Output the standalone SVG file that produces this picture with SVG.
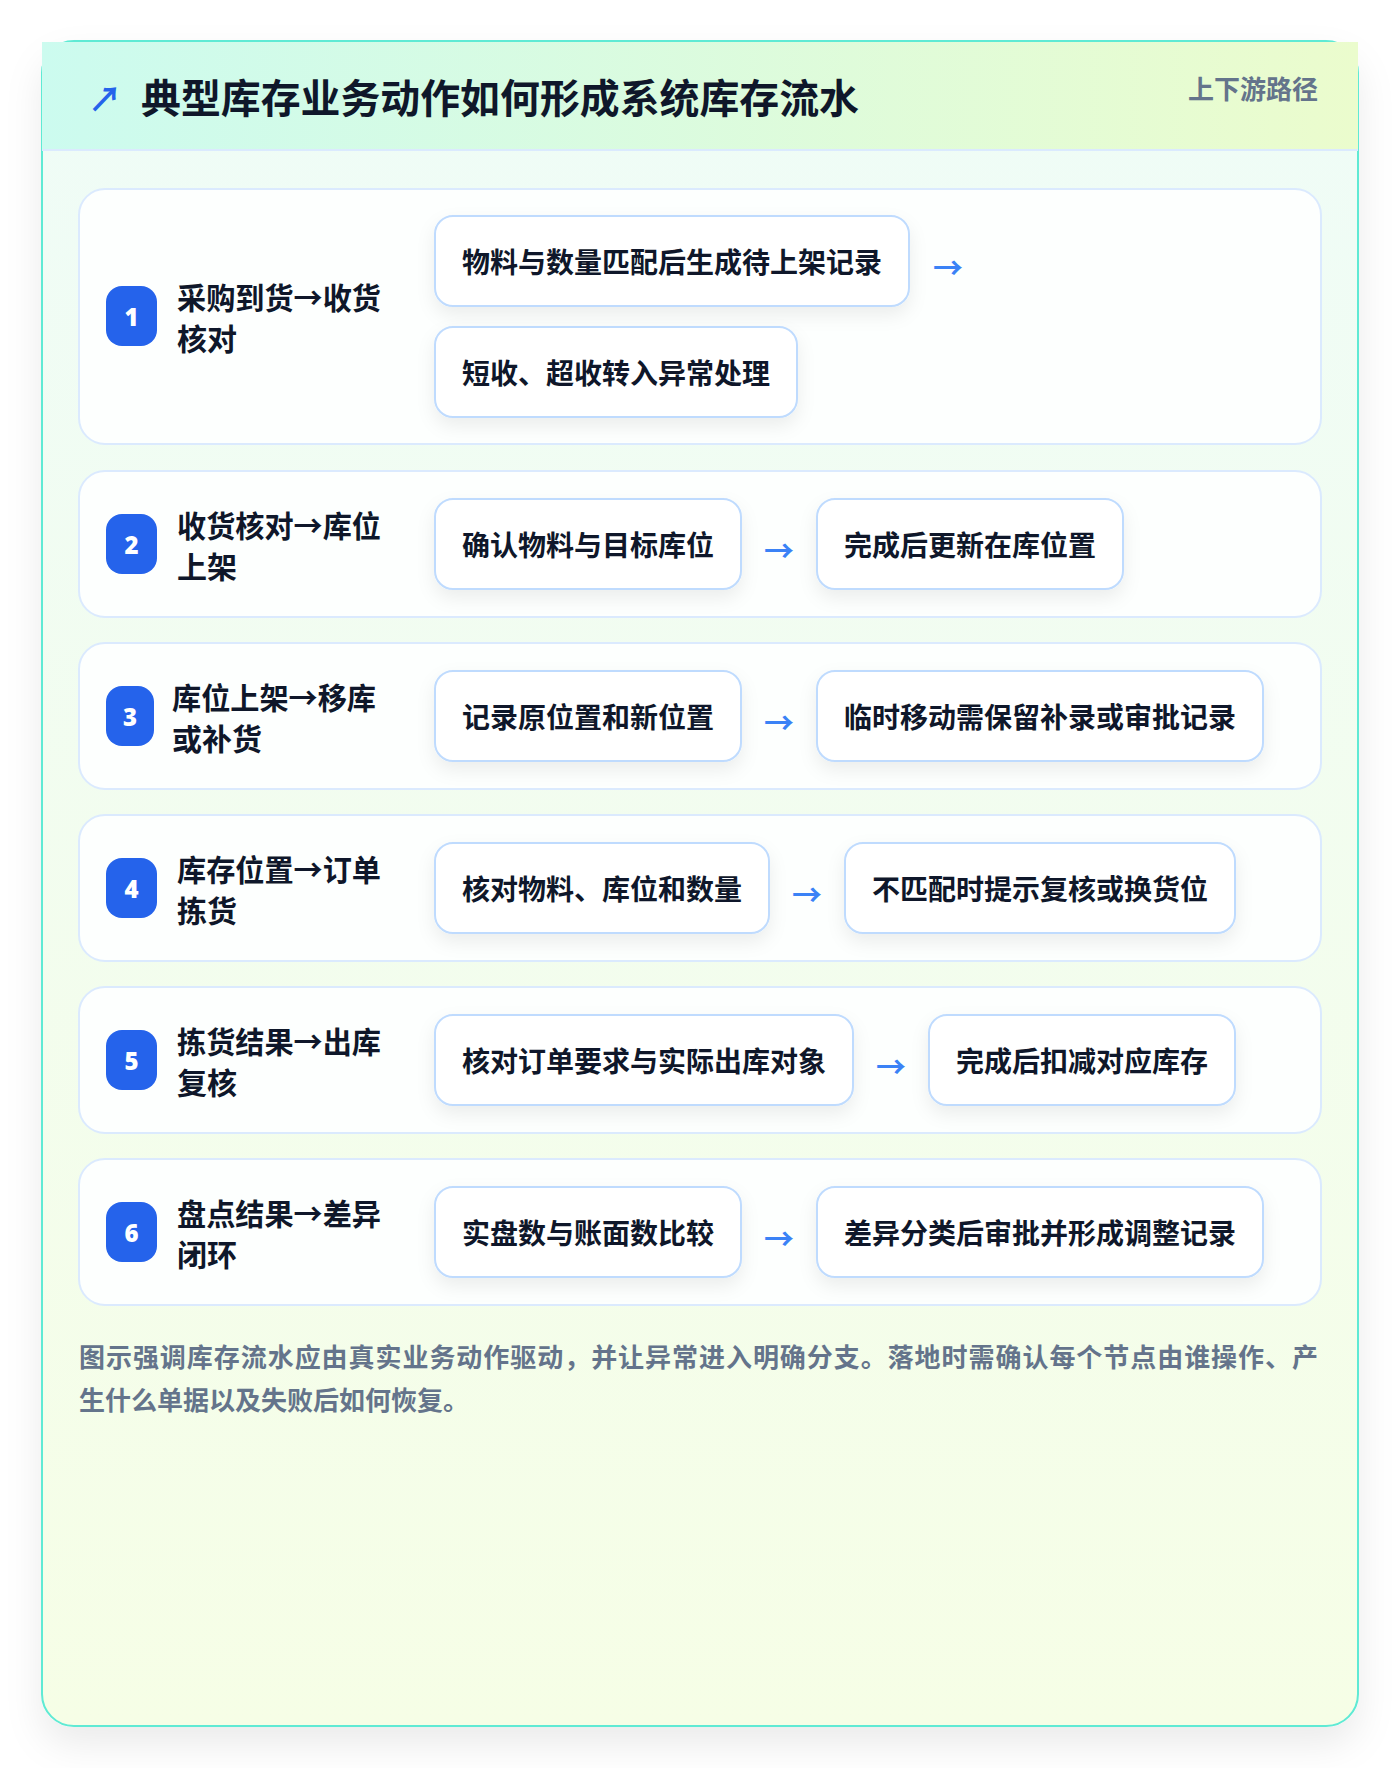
<svg xmlns="http://www.w3.org/2000/svg" width="1400" height="1768" viewBox="0 0 1400 1768">
  <defs>
    <linearGradient id="cardBg" x1="0" y1="0" x2="0" y2="1">
      <stop offset="0" stop-color="#effcf7"/>
      <stop offset="1" stop-color="#f6fee6"/>
    </linearGradient>
    <linearGradient id="headBg" x1="0" y1="0" x2="1" y2="0">
      <stop offset="0" stop-color="#ccfbef"/>
      <stop offset="1" stop-color="#ebfccd"/>
    </linearGradient>
    <filter id="cardShadow" x="-10%" y="-10%" width="120%" height="120%">
      <feDropShadow dx="0" dy="18" stdDeviation="18" flood-color="#0f172a" flood-opacity="0.08"/>
    </filter>
    <filter id="boxShadow" x="-10%" y="-20%" width="120%" height="160%">
      <feDropShadow dx="0" dy="8" stdDeviation="9" flood-color="#0f172a" flood-opacity="0.07"/>
    </filter>
    <style>
      .row { fill: #fdfffe; stroke: #dbeafe; stroke-width: 2; }
      .step { fill: #ffffff; stroke: #bfdbfe; stroke-width: 2; }
      .badge { fill: #2563eb; }
      .num { font-family: "Noto Sans", "DejaVu Sans", sans-serif; font-weight: 900; font-size: 24px; fill: #ffffff; text-anchor: middle; dominant-baseline: central; }
      .lbl { font-family: "Noto Sans CJK SC", "Noto Sans", sans-serif; font-weight: 700; font-size: 30px; fill: #0f172a; dominant-baseline: central; }
      .stxt { font-family: "Noto Sans CJK SC", "Noto Sans", sans-serif; font-weight: 700; font-size: 28px; fill: #0f172a; text-anchor: middle; dominant-baseline: central; }
      .arr { font-family: "Noto Sans CJK SC", "DejaVu Sans", sans-serif; font-weight: 700; font-size: 30px; fill: #3b82f6; dominant-baseline: central; }
      .foot { font-family: "Noto Sans CJK SC", "Noto Sans", sans-serif; font-weight: 700; font-size: 26px; fill: #64748b; dominant-baseline: central; }
    </style>
  </defs>

  <rect x="0" y="0" width="1400" height="1768" fill="#ffffff"/>

  <g id="card">
    <rect x="42" y="41" width="1316" height="1685" rx="32" fill="url(#cardBg)" stroke="#5eead4" stroke-width="2" filter="url(#cardShadow)"/>
    <rect x="42" y="42" width="1316" height="108" fill="url(#headBg)"/>
    <line x1="42" y1="150" x2="1358" y2="150" stroke="#dbeafe" stroke-width="2"/>
    <text x="88" y="97" font-family="Noto Sans CJK SC, DejaVu Sans, sans-serif" font-size="34" font-weight="700" fill="#2563eb" dominant-baseline="central">↗</text>
    <text x="141" y="96" font-family="Noto Sans CJK SC, Noto Sans, sans-serif" font-size="40" font-weight="700" fill="#0f172a" dominant-baseline="central" textLength="718" lengthAdjust="spacingAndGlyphs">典型库存业务动作如何形成系统库存流水</text>
    <text x="1318" y="87" font-family="Noto Sans CJK SC, Noto Sans, sans-serif" font-size="26" font-weight="700" fill="#64748b" text-anchor="end" dominant-baseline="central">上下游路径</text>
  </g>

  <g id="row1">
    <rect class="row" x="79" y="189" width="1242" height="255" rx="26"/>
    <rect class="badge" x="106" y="286" width="51" height="60" rx="16"/>
    <text class="num" x="131.5" y="316">1</text>
    <text class="lbl" x="177" y="296" textLength="204" lengthAdjust="spacingAndGlyphs">采购到货→收货</text>
    <text class="lbl" x="177" y="337">核对</text>
    <rect class="step" x="435" y="216" width="474" height="90" rx="18" filter="url(#boxShadow)"/>
    <text class="stxt" x="672" y="261">物料与数量匹配后生成待上架记录</text>
    <rect class="step" x="435" y="327" width="362" height="90" rx="18" filter="url(#boxShadow)"/>
    <text class="stxt" x="616" y="372">短收、超收转入异常处理</text>
  </g>

  <g id="row2">
    <rect class="row" x="79" y="471" width="1242" height="146" rx="26"/>
    <rect class="badge" x="106" y="514" width="51" height="60" rx="16"/>
    <text class="num" x="131.5" y="544">2</text>
    <text class="lbl" x="177" y="524" textLength="204" lengthAdjust="spacingAndGlyphs">收货核对→库位</text>
    <text class="lbl" x="177" y="565">上架</text>
    <rect class="step" x="435" y="499" width="306" height="90" rx="18" filter="url(#boxShadow)"/>
    <text class="stxt" x="588" y="544">确认物料与目标库位</text>
    <rect class="step" x="817" y="499" width="306" height="90" rx="18" filter="url(#boxShadow)"/>
    <text class="stxt" x="970" y="544">完成后更新在库位置</text>
  </g>

  <g id="row3">
    <rect class="row" x="79" y="643" width="1242" height="146" rx="26"/>
    <rect class="badge" x="106" y="686" width="48" height="60" rx="16"/>
    <text class="num" x="130" y="716">3</text>
    <text class="lbl" x="172" y="696" textLength="204" lengthAdjust="spacingAndGlyphs">库位上架→移库</text>
    <text class="lbl" x="172" y="737">或补货</text>
    <rect class="step" x="435" y="671" width="306" height="90" rx="18" filter="url(#boxShadow)"/>
    <text class="stxt" x="588" y="716">记录原位置和新位置</text>
    <rect class="step" x="817" y="671" width="446" height="90" rx="18" filter="url(#boxShadow)"/>
    <text class="stxt" x="1040" y="716">临时移动需保留补录或审批记录</text>
  </g>

  <g id="row4">
    <rect class="row" x="79" y="815" width="1242" height="146" rx="26"/>
    <rect class="badge" x="106" y="858" width="51" height="60" rx="16"/>
    <text class="num" x="131.5" y="888">4</text>
    <text class="lbl" x="177" y="868" textLength="204" lengthAdjust="spacingAndGlyphs">库存位置→订单</text>
    <text class="lbl" x="177" y="909">拣货</text>
    <rect class="step" x="435" y="843" width="334" height="90" rx="18" filter="url(#boxShadow)"/>
    <text class="stxt" x="602" y="888">核对物料、库位和数量</text>
    <rect class="step" x="845" y="843" width="390" height="90" rx="18" filter="url(#boxShadow)"/>
    <text class="stxt" x="1040" y="888">不匹配时提示复核或换货位</text>
  </g>

  <g id="row5">
    <rect class="row" x="79" y="987" width="1242" height="146" rx="26"/>
    <rect class="badge" x="106" y="1030" width="51" height="60" rx="16"/>
    <text class="num" x="131.5" y="1060">5</text>
    <text class="lbl" x="177" y="1040" textLength="204" lengthAdjust="spacingAndGlyphs">拣货结果→出库</text>
    <text class="lbl" x="177" y="1081">复核</text>
    <rect class="step" x="435" y="1015" width="418" height="90" rx="18" filter="url(#boxShadow)"/>
    <text class="stxt" x="644" y="1060">核对订单要求与实际出库对象</text>
    <rect class="step" x="929" y="1015" width="306" height="90" rx="18" filter="url(#boxShadow)"/>
    <text class="stxt" x="1082" y="1060">完成后扣减对应库存</text>
  </g>

  <g id="row6">
    <rect class="row" x="79" y="1159" width="1242" height="146" rx="26"/>
    <rect class="badge" x="106" y="1202" width="51" height="60" rx="16"/>
    <text class="num" x="131.5" y="1232">6</text>
    <text class="lbl" x="177" y="1212" textLength="204" lengthAdjust="spacingAndGlyphs">盘点结果→差异</text>
    <text class="lbl" x="177" y="1253">闭环</text>
    <rect class="step" x="435" y="1187" width="306" height="90" rx="18" filter="url(#boxShadow)"/>
    <text class="stxt" x="588" y="1232">实盘数与账面数比较</text>
    <rect class="step" x="817" y="1187" width="446" height="90" rx="18" filter="url(#boxShadow)"/>
    <text class="stxt" x="1040" y="1232">差异分类后审批并形成调整记录</text>
  </g>

  <g id="connectors">
    <text class="arr" x="933" y="266">→</text>
    <text class="arr" x="764" y="549">→</text>
    <text class="arr" x="764" y="721">→</text>
    <text class="arr" x="792" y="893">→</text>
    <text class="arr" x="876" y="1065">→</text>
    <text class="arr" x="764" y="1237">→</text>
  </g>

  <g id="footer">
    <text class="foot" x="79" y="1355" textLength="1239" lengthAdjust="spacing">图示强调库存流水应由真实业务动作驱动，并让异常进入明确分支。落地时需确认每个节点由谁操作、产</text>
    <text class="foot" x="79" y="1398">生什么单据以及失败后如何恢复。</text>
  </g>
</svg>
